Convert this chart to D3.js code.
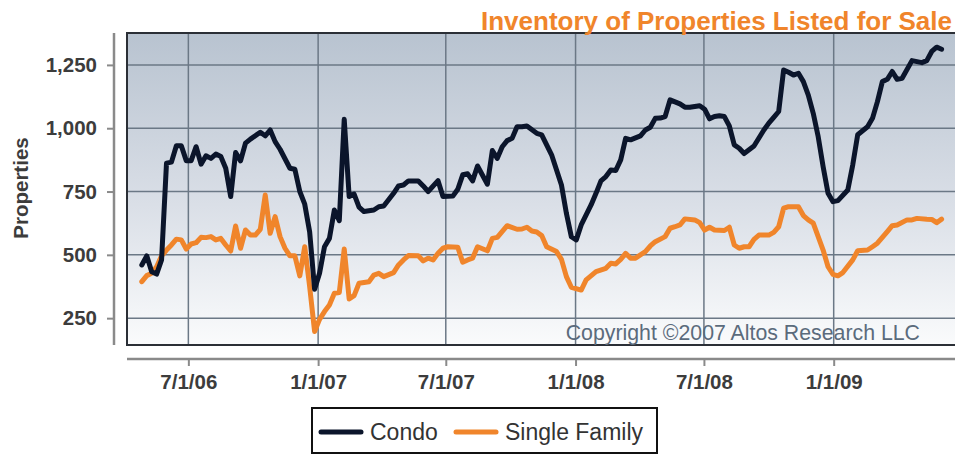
<!DOCTYPE html>
<html>
<head>
<meta charset="utf-8">
<script src="https://cdn.jsdelivr.net/npm/d3@7"></script>
<style>
  body { margin: 0; background: #fff; }
  svg { display: block; font-family: "Liberation Sans", Arial, sans-serif; }
</style>
</head>
<body>
<div id="chart"></div>
<script>

// --------------------------------------------------------
// data : weekly readings, week number counted from the first week
var first_week      =   new Date(2006, 3, 26);

var condo_weeks     =   [0,1,2,3,4,5,6,7,8,9,10,11,12,13,14,15,16,17,18,19,20,21,22,24,25,26,27,28,30,31,32,33,34,35,36,37,38,39,40,41,42,43,44,45,47,48,49,51,52,53,54,56,57,58,60,61,63,64,65,66,67,68,70,71,72,73,74,75,76,77,78,80,81,82,83,85,86,87,88,89,91,92,93,94,95,96,97,98,99,101,102,103,104,105,106,107,109,110,111,113,114,115,116,117,118,119,120,121,122,124,126,127,128,129,130,131,132,133,134,135,136,137,138,139,140,141,143,144,145,147,148,149,150,151,152,153,154,156,158,159,160,161,162];
var condo_values    =   [460,496,433,424,480,862,866,931,931,872,872,927,858,891,881,898,888,842,730,904,871,941,957,984,970,993,947,917,842,838,750,700,590,364,427,532,565,677,635,1035,730,740,688,671,677,690,693,743,772,776,792,792,772,750,793,730,732,759,816,820,792,851,779,912,881,927,951,960,1006,1006,1009,980,974,934,895,776,664,572,559,618,697,743,792,809,835,833,875,960,954,970,993,1004,1039,1040,1046,1112,1096,1083,1083,1089,1075,1037,1046,1049,1046,1009,934,921,900,930,993,1020,1043,1066,1230,1221,1210,1217,1184,1131,1059,967,848,743,710,714,756,855,974,1006,1039,1105,1184,1193,1224,1193,1197,1267,1259,1267,1303,1320,1312];

var single_weeks    =   [0,1,2,3,4,5,6,7,8,9,10,11,12,13,14,15,16,17,18,19,20,21,22,23,24,25,26,27,28,29,30,31,32,33,34,35,36,37,38,39,40,41,42,43,44,46,47,48,49,51,52,53,54,56,57,58,59,60,61,62,64,65,66,67,68,70,71,72,74,76,77,78,79,80,81,82,84,85,86,87,89,90,92,94,95,96,97,98,99,100,102,103,104,106,107,108,109,110,112,113,114,115,116,118,119,120,121,122,123,124,125,127,128,129,130,131,133,134,135,136,137,138,139,140,141,142,144,145,147,148,149,151,152,153,155,156,157,159,160,161,162];
var single_values   =   [394,418,427,453,496,519,539,562,559,523,543,548,569,568,572,559,565,539,515,614,526,598,578,578,601,736,585,651,572,526,496,496,417,532,374,197,245,276,302,348,351,523,326,339,388,394,420,427,414,430,460,480,497,496,476,487,480,506,526,532,530,471,480,487,532,516,565,569,615,601,602,609,594,590,576,532,513,482,414,372,361,401,434,447,467,464,482,506,487,487,513,535,552,572,605,611,618,642,638,627,598,609,598,596,609,539,526,532,532,561,578,578,589,611,684,690,690,655,638,625,572,519,453,423,417,430,480,516,519,532,546,592,615,618,638,638,644,641,640,627,641];

var y_ticks         =   [250, 500, 750, 1000, 1250];
var x_ticks         =   [new Date(2006, 6, 1), new Date(2007, 0, 1), new Date(2007, 6, 1),
                         new Date(2008, 0, 1), new Date(2008, 6, 1), new Date(2009, 0, 1)];

var series_names    =   ["Condo", "Single Family"];
var series_colors   =   ["#0b152b", "#f0852b"];

// --------------------------------------------------------

// Chart size parameters
var chart_width     =   955;
var chart_height    =   455;
var plot_left       =   127;
var plot_right      =   955;
var plot_top        =   33;
var plot_bottom     =   345;

// --------------------------------------------------------

var svg             = d3.select("#chart")
    .append("svg")
    .attr("width", chart_width)
    .attr("height", chart_height);

// background gradient of the plot area
var grad = svg.append("defs")
    .append("linearGradient")
    .attr("id", "bg")
    .attr("x1", 0).attr("y1", 0)
    .attr("x2", 0).attr("y2", 1);
grad.append("stop").attr("offset", "0%").attr("stop-color", "#b8c3d0");
grad.append("stop").attr("offset", "55%").attr("stop-color", "#dadfe7");
grad.append("stop").attr("offset", "100%").attr("stop-color", "#fafbfc");

// --------------------------------------------------------

// Scales
var x_scale = d3.scaleTime()
    .domain([new Date(2006, 3, 5), new Date(2009, 5, 22)])
    .range([plot_left, plot_right]);

var y_scale = d3.scaleLinear()
    .domain([144, 1376])
    .range([plot_bottom, plot_top]);

var week_date = (w) => d3.timeDay.offset(first_week, w * 7);

// --------------------------------------------------------

svg.append("rect")
    .attr("x", plot_left)
    .attr("y", plot_top)
    .attr("width", plot_right - plot_left)
    .attr("height", plot_bottom - plot_top)
    .attr("fill", "url(#bg)");

// grid lines
svg.append("g")
    .selectAll("line")
    .data(y_ticks)
    .enter()
    .append("line")
    .attr("x1", plot_left).attr("x2", plot_right)
    .attr("y1", (d) => y_scale(d)).attr("y2", (d) => y_scale(d))
    .attr("stroke", "#6b7886")
    .attr("stroke-width", 1.5);

svg.append("g")
    .selectAll("line")
    .data(x_ticks)
    .enter()
    .append("line")
    .attr("x1", (d) => x_scale(d)).attr("x2", (d) => x_scale(d))
    .attr("y1", plot_top).attr("y2", plot_bottom)
    .attr("stroke", "#6b7886")
    .attr("stroke-width", 1.5);

// plot frame (top, left, bottom)
svg.append("path")
    .attr("d", "M" + plot_right + "," + plot_top + "H" + plot_left + "V" + plot_bottom + "H" + plot_right)
    .attr("fill", "none")
    .attr("stroke", "#2b2f36")
    .attr("stroke-width", 2);

// copyright
svg.append("text")
    .attr("x", 920)
    .attr("y", 340)
    .attr("text-anchor", "end")
    .attr("font-size", 21.3)
    .attr("fill", "#5b6b7c")
    .text("Copyright \u00a92007 Altos Research LLC");

// --------------------------------------------------------

// lines
var line = d3.line()
    .x((d) => x_scale(week_date(d[0])))
    .y((d) => y_scale(d[1]));

var condo_data  = condo_weeks.map((w, i) => [w, condo_values[i]]);
var single_data = single_weeks.map((w, i) => [w, single_values[i]]);

[single_data, condo_data].forEach((d, i) => {
    svg.append("path")
        .datum(d)
        .attr("d", line)
        .attr("fill", "none")
        .attr("stroke", i == 0 ? series_colors[1] : series_colors[0])
        .attr("stroke-width", 5)
        .attr("stroke-linejoin", "round")
        .attr("stroke-linecap", "round");
});

// --------------------------------------------------------

// Axes
var y_axis = d3.axisLeft(y_scale)
    .tickValues(y_ticks)
    .tickSize(7)
    .tickPadding(10)
    .tickFormat(d3.format(","));

var y_g = svg.append("g")
    .attr("transform", "translate(114,0)")
    .call(y_axis);
y_g.select(".domain").attr("d", "M0," + plot_top + "V" + plot_bottom)
    .attr("stroke", "#8a8a8a").attr("stroke-width", 2.5);

var x_axis = d3.axisBottom(x_scale)
    .tickValues(x_ticks)
    .tickSize(7)
    .tickPadding(8)
    .tickFormat(d3.timeFormat("%-m/%-d/%y"));

var x_g = svg.append("g")
    .attr("transform", "translate(0,359)")
    .call(x_axis);
x_g.select(".domain").attr("d", "M" + plot_left + ",0H" + plot_right)
    .attr("stroke", "#8a8a8a").attr("stroke-width", 2.5);

svg.selectAll(".tick line").attr("stroke", "#8a8a8a").attr("stroke-width", 2);
svg.selectAll(".tick text")
    .attr("font-family", "Liberation Sans, Arial, sans-serif")
    .attr("font-size", 20.5)
    .attr("font-weight", "bold")
    .attr("fill", "#3c3c3c");

// axis title
svg.append("text")
    .attr("transform", "translate(28,188) rotate(-90)")
    .attr("text-anchor", "middle")
    .attr("font-size", 20.5)
    .attr("font-weight", "bold")
    .attr("fill", "#3c3c3c")
    .text("Properties");

// chart title
svg.append("text")
    .attr("x", 952)
    .attr("y", 30)
    .attr("text-anchor", "end")
    .attr("font-size", 26)
    .attr("font-weight", "bold")
    .attr("fill", "#f0852b")
    .text("Inventory of Properties Listed for Sale");

// --------------------------------------------------------

// legend
var legend = svg.append("g");
legend.append("rect")
    .attr("x", 312).attr("y", 408)
    .attr("width", 345).attr("height", 45)
    .attr("fill", "#fff")
    .attr("stroke", "#111")
    .attr("stroke-width", 2);

var legend_x = [321, 456];
series_names.forEach((name, i) => {
    legend.append("line")
        .attr("x1", legend_x[i]).attr("x2", legend_x[i] + 40)
        .attr("y1", 432).attr("y2", 432)
        .attr("stroke", series_colors[i])
        .attr("stroke-width", 5)
        .attr("stroke-linecap", "round");
    legend.append("text")
        .attr("x", legend_x[i] + 49)
        .attr("y", 440)
        .attr("font-size", 23)
        .attr("fill", "#333")
        .text(name);
});

</script>
</body>
</html>
